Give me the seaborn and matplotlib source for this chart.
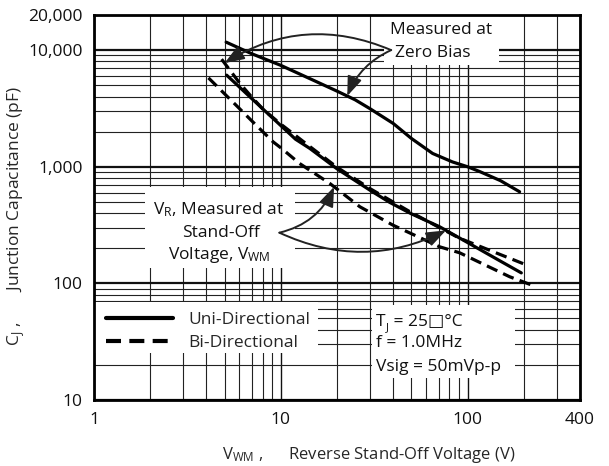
import numpy as np
import pandas as pd
import matplotlib
matplotlib.use("Agg")
import matplotlib.pyplot as plt
import seaborn as sns
from matplotlib.ticker import LogLocator, NullFormatter, FixedLocator
from matplotlib.patches import Rectangle

# ---------------- data ----------------
uni_zero_v = [5.1, 7, 10, 15, 20, 25, 30, 40, 50, 65, 83, 100, 116, 150, 190]
uni_zero_c = [11700, 9300, 7400, 5500, 4450, 3750, 3150, 2350, 1750, 1300, 1100, 1000, 910, 760, 610]

uni_vwm_v = [5.13, 6, 8, 10, 12, 14.3, 20, 30, 38.3, 50, 70.8, 100, 148, 194]
uni_vwm_c = [6100, 4830, 3140, 2255, 1720, 1436, 960, 630, 495, 395, 306, 224, 157, 123]

bi_zero_v = [4.82, 5.4, 6.04, 7, 8.05, 10, 14, 20, 30, 50, 90, 148, 202]
bi_zero_c = [8360, 6580, 5180, 3950, 3100, 2320, 1530, 990, 650, 405, 245, 178, 146]

bi_vwm_v = [4.1, 5, 6, 7, 9.1, 10.1, 12.6, 18.3, 26.5, 39.8, 70.8, 90.6, 168, 233]
bi_vwm_c = [5780, 4220, 3160, 2470, 1634, 1436, 1067, 719, 454, 316, 206, 183, 114, 93.6]

type_labels = ["Uni-Directional", "Bi-Directional"]
x_ticks = [1, 10, 100, 400]
x_ticklabels = ["1", "10", "100", "400"]
y_ticks = [10, 100, 1000, 10000, 20000]
y_ticklabels = ["10", "100", "1,000", "10,000", "20,000"]

# ---------------- long-form table ----------------
frames = []
for vs, cs, typ, cond in [
    (uni_zero_v, uni_zero_c, type_labels[0], "zero"),
    (uni_vwm_v, uni_vwm_c, type_labels[0], "vwm"),
    (bi_zero_v, bi_zero_c, type_labels[1], "zero"),
    (bi_vwm_v, bi_vwm_c, type_labels[1], "vwm"),
]:
    frames.append(pd.DataFrame({"V": vs, "C": cs, "Type": typ, "Cond": cond}))
df = pd.concat(frames, ignore_index=True)


def on_curve(vs, cs, v):
    lc = np.interp(np.log10(v), np.log10(vs), np.log10(cs))
    return (v, 10 ** lc)


# ---------------- style ----------------
sns.set_style("white")
plt.rcParams["font.family"] = ["Open Sans", "DejaVu Sans"]
plt.rcParams["mathtext.fontset"] = "custom"
plt.rcParams["mathtext.rm"] = "Open Sans"
plt.rcParams["mathtext.it"] = "Open Sans:italic"
plt.rcParams["mathtext.bf"] = "Open Sans:bold"
FS = 12.5

fig = plt.figure(figsize=(6.09, 4.66), dpi=100)
ax = fig.add_axes([94 / 609, 1 - 400 / 466, 486 / 609, 385 / 466])

sns.lineplot(
    data=df, x="V", y="C", style="Type", units="Cond", estimator=None,
    dashes={type_labels[0]: "", type_labels[1]: (3.6, 2.0)},
    color="black", lw=2.3, ax=ax, sort=True, zorder=3,
)

ax.set_xscale("log")
ax.set_yscale("log")
ax.set_xlim(1, 400)
ax.set_ylim(10, 20000)

ax.xaxis.set_major_locator(FixedLocator(x_ticks))
ax.set_xticklabels(x_ticklabels)
ax.yaxis.set_major_locator(FixedLocator(y_ticks))
ax.set_yticklabels(y_ticklabels)
ax.xaxis.set_minor_locator(LogLocator(base=10, subs=np.arange(2, 10), numticks=50))
ax.yaxis.set_minor_locator(LogLocator(base=10, subs=np.arange(2, 10), numticks=50))
ax.xaxis.set_minor_formatter(NullFormatter())
ax.yaxis.set_minor_formatter(NullFormatter())
ax.tick_params(which="both", length=0, labelsize=FS, colors="#111")
ax.tick_params(axis="x", pad=8.5)
ax.tick_params(axis="y", pad=8)

ax.set_axisbelow(True)
ax.grid(which="minor", color="#222", lw=0.8)
ax.xaxis.grid(True, which="major", color="#111", lw=1.0)
ax.yaxis.grid(True, which="major", color="#111", lw=1.6)

for s in ax.spines.values():
    s.set_color("black")
    s.set_linewidth(2.0)

ax.set_xlabel(r"V$_\mathrm{WM}$ ,      Reverse Stand-Off Voltage (V)", fontsize=12, va="center")
ax.xaxis.set_label_coords((368.6 - 94) / 486, (400 - 455) / 385)
ax.set_ylabel(r"C$_\mathrm{J}$ ,       Junction Capacitance (pF)", fontsize=12.5, va="center")
ax.yaxis.set_label_coords((16 - 94) / 486, (400 - 216) / 385)

# ---------------- white boxes ----------------
def white_box(x0, y0, x1, y1):
    ax.add_patch(Rectangle((x0, y0), x1 - x0, y1 - y0, transform=ax.transAxes,
                           facecolor="white", edgecolor="none", zorder=1.5))

white_box(0.0, 0.122, 0.461, 0.2545)     # legend
white_box(0.572, 0.057, 0.866, 0.247)    # conditions
white_box(0.597, 0.870, 0.833, 1.0)      # zero bias note
white_box(0.105, 0.343, 0.414, 0.553)    # V_R note

# ---------------- legend ----------------
handles, labels = ax.get_legend_handles_labels()
pairs = [(h, l) for h, l in zip(handles, labels) if l in type_labels]
for h, _ in pairs:
    h.set_linewidth(3.0)
    h.set_color("black")
ax.legend([p[0] for p in pairs], [p[1] for p in pairs], loc="center left",
          bbox_to_anchor=(0.024, 0.178), frameon=False, fontsize=FS,
          handlelength=3.9, handletextpad=0.85, labelspacing=0.4,
          borderpad=0, borderaxespad=0)

# ---------------- texts ----------------
tkw = dict(transform=ax.transAxes, fontsize=FS, color="#111", zorder=5)
ax.text(0.714, 0.961, "Measured at", ha="center", va="center", **tkw)
ax.text(0.697, 0.901, "Zero Bias", ha="center", va="center", **tkw)

ax.text(0.257, 0.4935, r"V$_\mathrm{R}$, Measured at", ha="center", va="center", **tkw)
ax.text(0.261, 0.4345, "Stand-Off", ha="center", va="center", **tkw)
ax.text(0.257, 0.3766, r"Voltage, V$_\mathrm{WM}$", ha="center", va="center", **tkw)

# T_J = 25□°C built from pieces so the box glyph can fall back to DejaVu
t_T = ax.text(0.580, 0.2034, "T", ha="left", va="center", **tkw)
t_J = ax.annotate("J", xy=(1.0, 0.0), xycoords=t_T, xytext=(0.5, -2.5),
                  textcoords="offset points", fontsize=8, color="#111",
                  ha="left", va="bottom", zorder=5)
ax.annotate(" = 25\u25a1\u00b0C", xy=(1.0, 0.0), xycoords=t_J, xytext=(0, 2.5),
            textcoords="offset points", fontsize=FS, color="#111",
            ha="left", va="bottom", zorder=5,
            family=["Open Sans", "DejaVu Sans"])
ax.text(0.580, 0.148, "f = 1.0MHz", ha="left", va="center", **tkw)
ax.text(0.580, 0.0865, "Vsig = 50mVp-p", ha="left", va="center", **tkw)

# ---------------- arrows ----------------
def arrow(tip, origin, rad):
    ax.annotate("", xy=tip, xytext=origin, xycoords="data", textcoords="data",
                arrowprops=dict(arrowstyle="-|>,head_length=0.85,head_width=0.32",
                                connectionstyle=f"arc3,rad={rad}", lw=1.4,
                                color="#222", mutation_scale=14,
                                shrinkA=0, shrinkB=0), zorder=6)

zb_origin = (39, 10000)
arrow(on_curve(bi_zero_v, bi_zero_c, 5.0), zb_origin, 0.26)
arrow(on_curve(uni_zero_v, uni_zero_c, 22.7), zb_origin, 0.2)

vr_origin = (9.83, 272)
arrow(on_curve(bi_vwm_v, bi_vwm_c, 19.3), vr_origin, 0.25)
arrow(on_curve(uni_vwm_v, uni_vwm_c, 76.7), vr_origin, 0.24)

fig.savefig("out.png", dpi=100, facecolor="white")
